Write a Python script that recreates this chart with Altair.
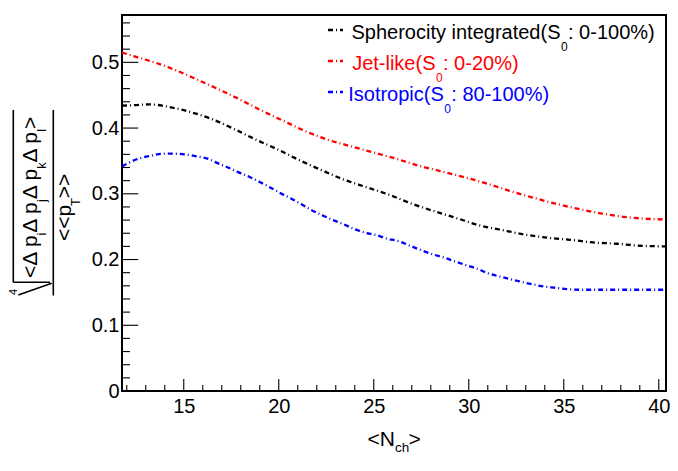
import altair as alt
import pandas as pd

FONT = "Liberation Sans"

# ---------------- data ----------------
series_names = ["Spherocity integrated", "Jet-like", "Isotropic"]
series_colors = ["#000000", "#ff0000", "#0000ff"]

nch_black = [11.75, 12.5, 13.2, 14.26, 15.4, 16.54, 17.69, 18.83, 19.97, 21.1, 22.25,
             23.39, 24.62, 25.76, 26.99, 28.13, 29.36, 30.55, 31.73, 32.96, 34.18,
             35.33, 36.55, 37.79, 39.02, 40.38]
val_black = [0.434, 0.435, 0.436, 0.432, 0.424, 0.413, 0.398, 0.382, 0.367, 0.351, 0.336,
             0.322, 0.310, 0.299, 0.285, 0.274, 0.263, 0.252, 0.245, 0.238, 0.233,
             0.230, 0.226, 0.224, 0.221, 0.220]

nch_red = [11.75, 12.4, 13.56, 14.75, 15.84, 16.98, 18.12, 19.21, 20.32, 21.42, 22.5,
           23.7, 24.97, 26.1, 27.34, 28.57, 29.8, 31.02, 32.2, 33.4, 34.57, 35.77,
           37.0, 38.13, 39.36, 40.38]
val_red = [0.515, 0.509, 0.499, 0.486, 0.472, 0.457, 0.441, 0.425, 0.410, 0.395, 0.383,
           0.373, 0.363, 0.354, 0.343, 0.334, 0.325, 0.315, 0.304, 0.294, 0.285, 0.277,
           0.270, 0.265, 0.262, 0.261]

nch_blue = [11.75, 12.68, 13.3, 13.9, 14.44, 15.05, 15.67, 16.2, 16.75, 17.33, 17.86,
            18.44, 19.0, 19.53, 20.09, 20.64, 21.2, 21.73, 22.25, 22.86, 23.39, 24.0,
            24.53, 25.15, 25.67, 26.29, 26.9, 27.52, 28.1, 28.7, 29.28, 29.9, 30.45,
            31.02, 31.64, 32.2, 32.78, 33.4, 33.96, 34.57, 35.15, 35.77, 37.0, 38.5, 40.38]
val_blue = [0.342, 0.354, 0.358, 0.361, 0.361, 0.360, 0.357, 0.354, 0.347, 0.340, 0.333,
            0.326, 0.318, 0.310, 0.301, 0.293, 0.284, 0.275, 0.268, 0.260, 0.254, 0.246,
            0.241, 0.237, 0.232, 0.228, 0.221, 0.214, 0.208, 0.203, 0.197, 0.191, 0.186,
            0.179, 0.174, 0.170, 0.166, 0.162, 0.159, 0.157, 0.155, 0.154, 0.154, 0.154, 0.154]

x_major = [15, 20, 25, 30, 35, 40]
x_minor = [v for v in range(12, 41) if v not in x_major]
y_major = [0.0, 0.1, 0.2, 0.3, 0.4, 0.5]
y_minor = [round(0.02 * k, 2) for k in range(1, 29) if k % 5 != 0]

rows = []
for name, xs, ys in zip(series_names, [nch_black, nch_red, nch_blue],
                        [val_black, val_red, val_blue]):
    for a, b in zip(xs, ys):
        rows.append({"nch": a, "val": b, "series": name})
df = pd.DataFrame(rows)

# ---------------- layout ----------------
W, H = 544, 376
DASH = [5, 3, 1, 3]
xscale = alt.Scale(domain=[11.75, 40.38], nice=False, zero=False)
yscale = alt.Scale(domain=[0, 0.572], nice=False, zero=False)

xaxis = alt.Axis(values=x_major, title=None, ticks=False, tickSize=0, domain=False,
                 grid=False, labelFont=FONT, labelFontSize=20, labelColor="black",
                 labelPadding=5, labelFlush=False, labelOverlap=False, labelBound=False)
yaxis = alt.Axis(values=y_major, title=None, ticks=False, tickSize=0, domain=False,
                 grid=False, labelFont=FONT, labelFontSize=20, labelColor="black",
                 labelPadding=3, labelFlush=False, labelOverlap=False, labelBound=False,
                 labelExpr="datum.value == 0 ? '0' : format(datum.value, '.1f')")

lines = alt.Chart(df).mark_line(strokeDash=DASH, strokeWidth=2.3,
                                interpolate="monotone").encode(
    x=alt.X("nch:Q", scale=xscale, axis=xaxis),
    y=alt.Y("val:Q", scale=yscale, axis=yaxis),
    color=alt.Color("series:N", scale=alt.Scale(domain=series_names, range=series_colors),
                    legend=None),
)


def xticks(vals, length):
    return alt.Chart(pd.DataFrame({"nch": vals})).mark_rule(color="black", strokeWidth=1.1).encode(
        x=alt.X("nch:Q", scale=xscale, axis=xaxis),
        y=alt.value(H), y2=alt.value(H - length))


def yticks(vals, length):
    return alt.Chart(pd.DataFrame({"val": vals})).mark_rule(color="black", strokeWidth=1.1).encode(
        y=alt.Y("val:Q", scale=yscale, axis=yaxis),
        x=alt.value(0), x2=alt.value(length))


ONE = pd.DataFrame({"k": [0]})

WID = {"S": 667, "p": 556, "h": 556, "e": 556, "r": 333, "o": 556, "c": 500, "i": 222,
       "t": 278, "y": 500, " ": 278, "n": 556, "g": 556, "a": 556, "d": 556, "(": 333,
       ")": 333, ":": 278, "-": 333, "%": 889, "J": 500, "l": 222, "k": 500, "I": 278,
       "s": 500, "T": 611, "N": 722, "<": 584, ">": 584, "\u0394": 668, "j": 222}
WF = 0.97


def tw(s, size):
    return WF * sum(WID.get(ch, 556) for ch in s) * size / 1000.0


def txt(t, px, py, size, color="black", angle=None, align="left"):
    kw = dict(align=align, baseline="alphabetic", font=FONT, fontSize=size, color=color)
    if angle is not None:
        kw["angle"] = angle
    return alt.Chart(ONE).mark_text(**kw).encode(
        x=alt.value(px), y=alt.value(py), text=alt.value(t))


def vrun(pieces, basex, y0, color="black"):
    out, y = [], y0
    for t, size, dx in pieces:
        out.append(txt(t, basex + dx, y, size, color, angle=270))
        y -= tw(t, size)
    return out


def seg(x1, y1, x2, y2, width=1.6, color="black", dash=None):
    kw = dict(color=color, strokeWidth=width)
    if dash is not None:
        kw["strokeDash"] = dash
    return alt.Chart(ONE).mark_rule(**kw).encode(
        x=alt.value(x1), y=alt.value(y1), x2=alt.value(x2), y2=alt.value(y2))


layers = [lines,
          xticks(x_major, 12), xticks(x_minor, 6),
          yticks(y_major, 16.3), yticks(y_minor, 8)]

# legend: main text right-aligned against the subscript, tail after it
legend_rows = [
    ("Spherocity integrated(S", ": 0-100%)", series_colors[0], 439.0),
    ("Jet-like(S", ": 0-20%)", series_colors[1], 314.0),
    ("Isotropic(S", ": 80-100%)", series_colors[2], 322.3),
]
bases = [24, 55, 86]
for (a, b, col, sx), base in zip(legend_rows, bases):
    layers.append(seg(206, base - 9, 221, base - 9, width=2.3, color=col, dash=DASH))
    layers.append(txt(a, sx - 0.5, base, 20, col, align="right"))
    layers.append(txt("0", sx, base + 12, 12, col))
    layers.append(txt(b, sx + 7, base, 20, col))

# x title  <N_ch>
layers.append(txt("<N", 273, 430.7, 21, align="right"))
layers.append(txt("ch", 273, 436.7, 13.5))
layers.append(txt(">", 286.5, 430.7, 21))

# y title: 4th root of <Δp_iΔp_jΔp_kΔp_l> over <<p_T>>
D = "\u0394"
num = [("<" + D + " p", 21, 0), ("i", 13, 9), (D + " p", 21, 0), ("j", 13, 9),
       (D + " p", 21, 0), ("k", 13, 9), (D + " p", 21, 0), ("l", 13, 9), (">", 21, 0)]
layers += vrun(num, -85, 263)
layers += vrun([("<<p", 21, 0), ("T", 13, 9), (">>", 21, 0)], -51, 226)
layers.append(txt("4", -105, 280, 11, angle=270))
layers += [seg(-108.7, 95, -108.7, 267.3),
           seg(-108.7, 267.3, -72, 267.3),
           seg(-70.3, 268.3, -103.7, 280),
           seg(-68.7, 95, -68.7, 280.5)]

chart = alt.layer(*layers).properties(
    width=W, height=H,
    autosize=alt.AutoSizeParams(type="none"),
    padding={"left": 114, "top": 7, "right": 4, "bottom": 66},
    background="white",
).configure_view(stroke="black", strokeWidth=2)

chart.save("out.html", embed_options={"renderer": "svg", "actions": False})
